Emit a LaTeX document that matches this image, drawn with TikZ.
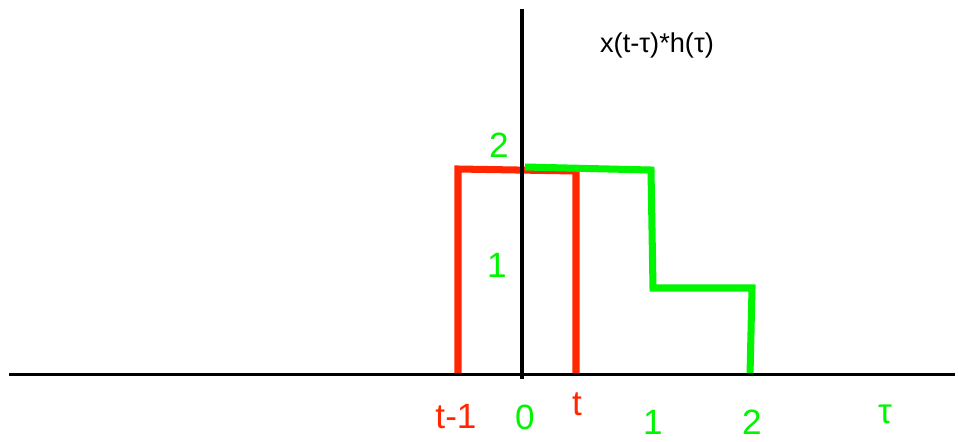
\documentclass[tikz,border=0pt]{standalone}
\usepackage{fontspec}
\setmainfont{Liberation Sans}
\definecolor{SigRed}{RGB}{255,38,0}
\definecolor{SigGreen}{RGB}{0,245,0}
\usetikzlibrary{positioning}

\begin{document}
\begin{tikzpicture}[x=0.02cm,y=-0.02cm, every node/.style={font=\fontsize{20}{22}\selectfont,inner sep=0pt},
axis/.style={draw=black,line width=1.7pt},
redpulse/.style={draw=SigRed,line width=4pt},
greenpulse/.style={draw=SigGreen,line width=4pt},
redlabel/.style={text=SigRed},
greenlabel/.style={text=SigGreen}]
\useasboundingbox (0,0) rectangle (958,441);
% x(t-tau), shifted pulse
\draw[redpulse] (458,375) -- (458,169) -- (576,171) -- (576,375);
% h(tau)
\draw[greenpulse] (525,167) -- (651,170) -- (653,288) -- (752,288) -- (750,376);
% axes
\draw[axis] (9,374) -- (955,374);
\draw[axis,line width=2.1pt] (522,9) -- (522,379);
% labels
\node[font=\fontsize{15.5}{17}\selectfont] (title) at (657,45) {x(t-τ)*h(τ)};
\node[greenlabel] (ytwo) at (499,145) {2};
\node[greenlabel] (yone) at (497,265) {1};
\node[redlabel] (tmone) at (456,417) {t-1};
\node[greenlabel] (xzero) at (525,417) {0};
\node[redlabel] (tpos) at (577,404) {t};
\node[greenlabel] (xone) at (653,422) {1};
\node[greenlabel] (xtwo) at (752,422) {2};
\node[greenlabel] (tau) at (885,414) {τ};
\end{tikzpicture}
\end{document}
